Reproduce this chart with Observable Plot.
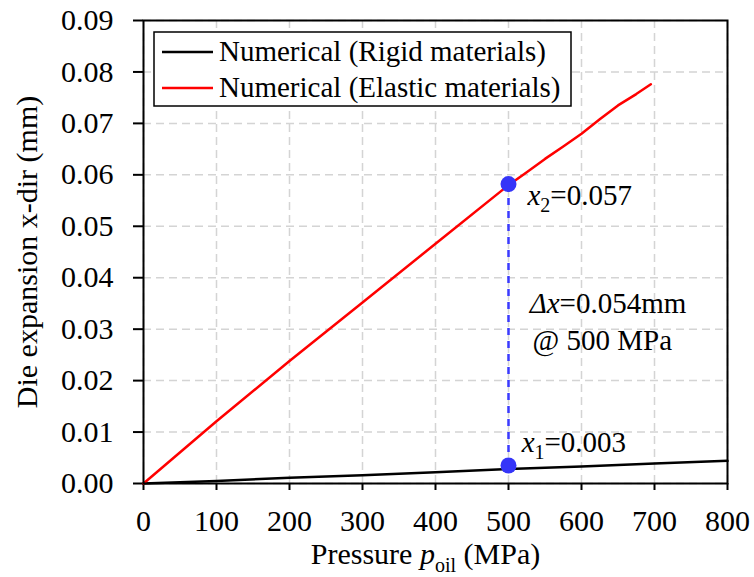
<!DOCTYPE html>
<html>
<head>
<meta charset="utf-8">
<script src="https://cdn.jsdelivr.net/npm/d3@7"></script>
<script src="https://cdn.jsdelivr.net/npm/@observablehq/plot@0.6"></script>
<style>
  html, body { margin: 0; padding: 0; background: white; }
  svg { display: block; }
  svg, svg text { font-family: "Liberation Serif", Tinos, "Times New Roman", serif !important; }
</style>
</head>
<body>
<div id="chart"></div>
<script>
// ---- data ----
const elasticP = [0, 100, 200, 300, 400, 500, 525, 550, 575, 600, 625, 650, 675, 695];
const elasticX = [0, 0.0121, 0.0238, 0.0352, 0.0466, 0.0580, 0.0605, 0.0631, 0.0655, 0.0680, 0.0708, 0.0735, 0.0757, 0.0776];
const rigidP = [0, 100, 200, 300, 400, 500, 600, 700, 800];
const rigidX = [0, 0.0005, 0.0011, 0.0016, 0.0022, 0.0028, 0.0033, 0.0039, 0.0044];
const markerP = [500, 500];
const markerX = [0.0035, 0.0582];
const xTicks = [0, 100, 200, 300, 400, 500, 600, 700, 800];
const yTicks = [0, 0.01, 0.02, 0.03, 0.04, 0.05, 0.06, 0.07, 0.08, 0.09];
const seriesNames = ["Numerical (Rigid materials)", "Numerical (Elastic materials)"];
const seriesColors = ["black", "red"];
const annText = ["*x*_{2}=0.057", "*Δx*=0.054mm", "@ 500 MPa", "*x*_{1}=0.003"];
const annP = [526, 529, 533, 518];
const annX = [0.0560, 0.0350, 0.0278, 0.0080];
const xTitle = "Pressure *p*_{oil} (MPa)";
const yTitle = "Die expansion x-dir (mm)";

const elastic = elasticP.map((p, i) => ({p, x: elasticX[i]}));
const rigid = rigidP.map((p, i) => ({p, x: rigidX[i]}));
const markers = markerP.map((p, i) => ({p, x: markerX[i]}));
const anns = annText.map((t, i) => ({t, p: annP[i], x: annX[i]}));

const FONT = "'Liberation Serif', Tinos, 'Times New Roman', serif";
const FS = 30;   // axes
const FA = 29;   // annotations / legend
const svg = Plot.plot({
  width: 754, height: 577,
  marginLeft: 143, marginRight: 27, marginTop: 20, marginBottom: 94,
  style: {fontFamily: FONT, fontSize: FS + "px", background: "white", color: "black"},
  x: {domain: [0, 800]},
  y: {domain: [0, 0.09]},
  marks: [
    Plot.gridX(xTicks, {stroke: "#d4d4d4", strokeOpacity: 1, strokeWidth: 1.5, strokeDasharray: "8,5"}),
    Plot.gridY(yTicks, {stroke: "#d4d4d4", strokeOpacity: 1, strokeWidth: 1.5, strokeDasharray: "8,5"}),
    Plot.axisX(xTicks, {tickSize: 7, tickPadding: 19, strokeWidth: 2, label: null, tickFormat: d => String(d), fontSize: FS}),
    Plot.axisY(yTicks, {tickSize: 10, tickPadding: 20, strokeWidth: 2, label: null, tickFormat: d => d.toFixed(2), fontSize: FS}),
    Plot.line(rigid, {x: "p", y: "x", stroke: seriesColors[0], strokeWidth: 2.5}),
    Plot.line(elastic, {x: "p", y: "x", stroke: seriesColors[1], strokeWidth: 2.5}),
    Plot.ruleX([markerP[0]], {y1: markerX[0], y2: markerX[1], stroke: "#3a3aff", strokeWidth: 2.5, strokeDasharray: "7,6"}),
    Plot.dot(markers, {x: "p", y: "x", r: 8, fill: "#3535f8", stroke: "none"}),
    Plot.text(anns, {x: "p", y: "x", text: "t", textAnchor: "start", lineAnchor: "middle", fontSize: FA, fill: "black"}),
    Plot.text([xTitle], {frameAnchor: "bottom", dx: -10, dy: 71, textAnchor: "middle", lineAnchor: "middle", fontSize: FS, fill: "black"}),
    Plot.text([yTitle], {frameAnchor: "left", dx: -116, rotate: -90, textAnchor: "middle", lineAnchor: "middle", fontSize: FS, fill: "black"}),
    Plot.frame({stroke: "black", strokeWidth: 2})
  ]
});

// rich text: *italic*, _{subscript}
function rich(textEl, src, fs) {
  const parts = [];
  let i = 0;
  while (i < src.length) {
    if (src[i] === "*") {
      const j = src.indexOf("*", i + 1);
      parts.push({t: src.slice(i + 1, j), italic: true});
      i = j + 1;
    } else if (src.startsWith("_{", i)) {
      const j = src.indexOf("}", i);
      parts.push({t: src.slice(i + 2, j), sub: true});
      i = j + 1;
    } else {
      let j = i;
      while (j < src.length && src[j] !== "*" && !src.startsWith("_{", j)) j++;
      parts.push({t: src.slice(i, j)});
      i = j;
    }
  }
  textEl.textContent = "";
  let shifted = false;
  const subShift = Math.round(fs * 0.25);
  for (const p of parts) {
    const ts = document.createElementNS("http://www.w3.org/2000/svg", "tspan");
    ts.textContent = p.t;
    if (p.italic) ts.setAttribute("font-style", "italic");
    if (p.sub) {
      ts.setAttribute("font-size", Math.round(fs * 0.68));
      ts.setAttribute("dy", subShift);
      shifted = true;
    } else if (shifted) {
      ts.setAttribute("dy", -subShift);
      shifted = false;
    }
    textEl.appendChild(ts);
  }
}
svg.querySelectorAll("text").forEach(el => {
  const s = el.textContent;
  if (s.includes("*") || s.includes("_{")) {
    const fs = s === xTitle ? FS : FA;
    rich(el, s, fs);
  }
});

// legend inside plot area
const g = d3.select(svg).append("g")
  .attr("font-size", FA).attr("text-anchor", "start");
g.append("rect").attr("x", 154).attr("y", 32).attr("width", 417).attr("height", 74)
  .attr("fill", "white").attr("stroke", "black").attr("stroke-width", 1.5);
seriesNames.forEach((name, i) => {
  const cy = 52 + i * 36;
  g.append("line").attr("x1", 162).attr("x2", 213).attr("y1", cy).attr("y2", cy)
    .attr("stroke", seriesColors[i]).attr("stroke-width", 2.5);
  g.append("text").attr("x", 219).attr("y", cy).attr("dy", "0.32em").attr("fill", "black").text(name);
});

document.getElementById("chart").appendChild(svg);
</script>
</body>
</html>
